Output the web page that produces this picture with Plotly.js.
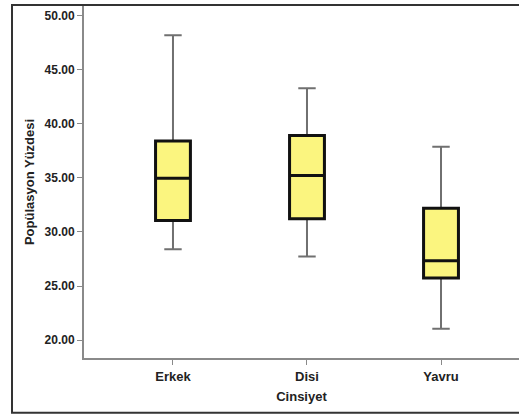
<!DOCTYPE html>
<html>
<head>
<meta charset="utf-8">
<script src="https://cdn.plot.ly/plotly-3.0.1.min.js"></script>
<style>html,body{margin:0;padding:0;background:#fff;}#chart{width:519px;height:416px;}</style>
</head>
<body>
<div id="chart"></div>
<script>
const categories = ["Erkek", "Disi", "Yavru"];
const lowerWhisker = [28.41, 27.73, 21.04];
const q1 = [31.05, 31.21, 25.73];
const median = [34.97, 35.21, 27.33];
const q3 = [38.42, 38.91, 32.2];
const upperWhisker = [48.2, 43.29, 37.89];
const yTicks = [20, 25, 30, 35, 40, 45, 50];

const fill = "#FBF57F";
const whiskerTrace = {
  type: "box", x: categories, q1: q1, median: median, q3: q3,
  lowerfence: lowerWhisker, upperfence: upperWhisker,
  width: 0.26, whiskerwidth: 0.5,
  line: {color: "#707070", width: 2}, fillcolor: fill,
  boxpoints: false, hoverinfo: "skip", showlegend: false
};
const boxTrace = {
  type: "box", x: categories, q1: q1, median: median, q3: q3,
  lowerfence: q1, upperfence: q3,
  width: 0.26, whiskerwidth: 1,
  line: {color: "#111111", width: 3}, fillcolor: fill,
  boxpoints: false, hoverinfo: "skip", showlegend: false
};

const layout = {
  width: 519, height: 416,
  margin: {l: 84, r: 0, t: 6, b: 58},
  paper_bgcolor: "#fff", plot_bgcolor: "#fff",
  boxmode: "overlay",
  font: {family: "Liberation Sans, Arial, sans-serif", color: "#222"},
  xaxis: {
    type: "category", range: [-0.664, 2.582],
    showgrid: false, zeroline: false,
    showline: true, linecolor: "#8a8a8a", linewidth: 2,
    ticks: "outside", ticklen: 5, tickcolor: "#8a8a8a", tickwidth: 1,
    tickfont: {size: 13, color: "#222", weight: "bold"},
    title: {text: "Cinsiyet", font: {size: 13, color: "#222", weight: "bold"}, standoff: 9}
  },
  yaxis: {
    range: [18.34, 50.9],
    tickvals: yTicks, tickformat: ".2f",
    showgrid: false, zeroline: false,
    showline: true, linecolor: "#8a8a8a", linewidth: 2,
    ticks: "outside", ticklen: 5, tickcolor: "#8a8a8a", tickwidth: 1,
    tickfont: {size: 12, color: "#222", weight: "bold"},
    title: {text: "Popülasyon Yüzdesi", font: {size: 13, color: "#222", weight: "bold"}, standoff: 7}
  },
  shapes: [{
    type: "rect", xref: "paper", yref: "paper",
    x0: -0.1655, x1: 1.02, y0: -0.1558, y1: 1.0028,
    line: {color: "#333", width: 2}, fillcolor: "rgba(0,0,0,0)", layer: "above"
  }]
};

Plotly.newPlot("chart", [whiskerTrace, boxTrace], layout, {staticPlot: true, displayModeBar: false});
</script>
</body>
</html>
